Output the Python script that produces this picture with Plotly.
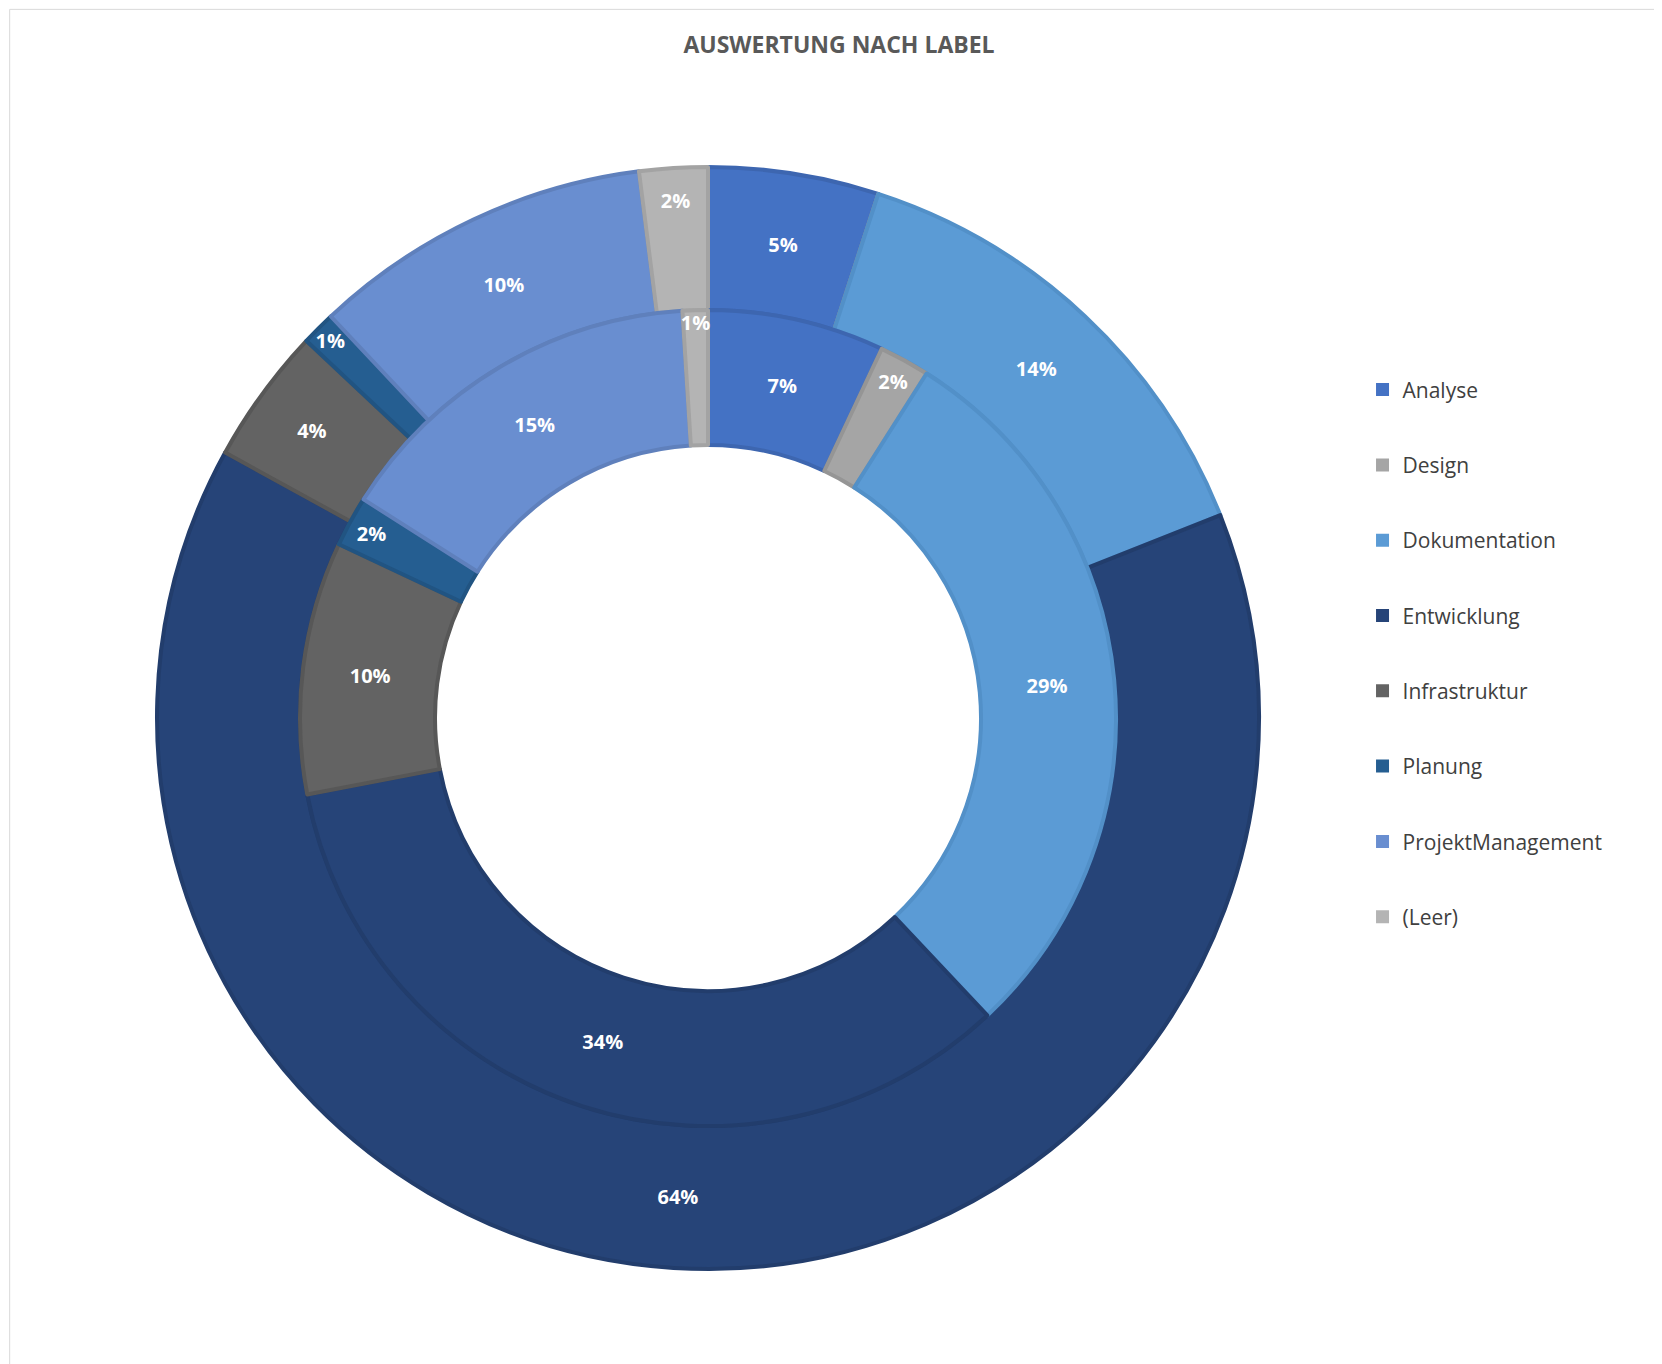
import plotly.graph_objects as go

labels = ["Analyse", "Design", "Dokumentation", "Entwicklung", "Infrastruktur",
          "Planung", "ProjektManagement", "(Leer)"]
outer_vals = [5, 0, 14, 64, 4, 1, 10, 2]
inner_vals = [7, 2, 29, 34, 10, 2, 15, 1]
colors = ["#4472C4", "#A5A5A5", "#5B9BD5", "#264478", "#636363", "#255E91", "#698ED0", "#B4B4B4"]
edges = ["#3D66B0", "#959595", "#5290C8", "#223D6C", "#575757", "#215482", "#5F80BC", "#A3A3A3"]

W, H = 1662, 1364
cx, cy = 700, 710
r_out, r_mid, r_in = 551, 408, 273

def dom(r):
    return dict(x=[(cx - r) / W, (cx + r) / W],
                y=[(H - cy - r) / H, (H - cy + r) / H])

def txt(vals):
    return [f"{v}%" if v > 0 else "" for v in vals]

fig = go.Figure()
for vals, r, h in [(outer_vals, r_out, r_mid / r_out), (inner_vals, r_mid, r_in / r_mid)]:
    fig.add_trace(go.Pie(labels=labels, values=vals, text=txt(vals), textinfo="text",
                         hole=h, domain=dom(r), sort=False, direction="clockwise",
                         rotation=0, showlegend=False, textposition="inside",
                         insidetextorientation="horizontal",
                         marker=dict(colors=colors, line=dict(color=edges, width=4)),
                         textfont=dict(color="white", size=20, family="Open Sans", weight="bold"),
                         hoverinfo="label+value"))

# legend entries
for lab, col in zip(labels, colors):
    fig.add_trace(go.Scatter(x=[None], y=[None], mode="markers", name=lab, legendgroup=lab,
                             marker=dict(symbol="square", size=13, color=col)))

fig.update_layout(
    width=W, height=H, margin=dict(l=0, r=0, t=0, b=0),
    paper_bgcolor="white", plot_bgcolor="white",
    xaxis=dict(visible=False), yaxis=dict(visible=False),
    uniformtext=dict(minsize=19, mode="show"),
    title=dict(text="<b>AUSWERTUNG NACH LABEL</b>", x=0.5, xanchor="center", y=0.973, yanchor="middle",
               font=dict(size=23, color="#595959", family="Open Sans")),
    legend=dict(x=0.815, y=0.735, xanchor="left", yanchor="top", tracegroupgap=45,
                font=dict(size=21, color="#404040", family="Open Sans"), itemwidth=30),
    shapes=[dict(type="rect", xref="paper", yref="paper", x0=0.001, y0=0.001, x1=0.999, y1=0.999,
                 line=dict(color="#D9D9D9", width=1))],
)

fig.write_html("out.html")
